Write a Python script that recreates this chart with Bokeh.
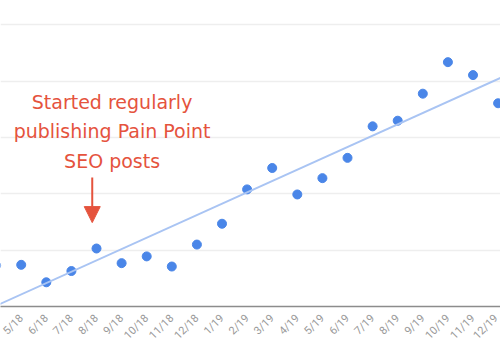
import math
from bokeh.plotting import figure
from bokeh.models import Range1d, FixedTicker, Grid, Slope, Arrow, NormalHead
from bokeh.core.properties import value
from bokeh.embed import file_html
from bokeh.resources import INLINE

# ---- data ----
months = ["4/18", "5/18", "6/18", "7/18", "8/18", "9/18", "10/18", "11/18", "12/18",
          "1/19", "2/19", "3/19", "4/19", "5/19", "6/19", "7/19", "8/19", "9/19",
          "10/19", "11/19", "12/19"]
traffic = [7.3, 7.4, 4.3, 6.3, 10.3, 7.7, 8.9, 7.1, 11.0,
           14.7, 20.8, 24.6, 19.9, 22.8, 26.4, 32.0, 33.0, 37.8,
           43.4, 41.1, 36.1]
trend_gradient = 2.014   # per month
trend_intercept = 0.13   # at first month
grid_values = [0, 10, 20, 30, 40, 50]
note_lines = ["Started regularly", "publishing Pain Point", "SEO posts"]
note_month = "8/18"

RED = "#e5533d"
BLUE = "#4a86e8"

xs = list(range(len(months)))

p = figure(width=500, height=350, output_backend="svg", toolbar_location=None,
           x_range=Range1d(0.175, 20.095), y_range=Range1d(0, 54.35),
           y_axis_location=None,
           min_border_left=0, min_border_right=0, min_border_top=0, min_border_bottom=44)
p.outline_line_color = None
p.background_fill_color = "white"
p.border_fill_color = "white"
p.xgrid.visible = False
p.ygrid.visible = False
p.add_layout(Grid(dimension=1, ticker=FixedTicker(ticks=grid_values),
                  grid_line_color="#eeeeee", grid_line_width=1.5), "center")

ax = p.xaxis[0]
ax.ticker = FixedTicker(ticks=xs)
ax.major_label_overrides = {i: m for i, m in enumerate(months)}
ax.major_label_orientation = math.pi / 4
ax.major_label_text_font = "Roboto"
ax.major_label_text_font_size = "11px"
ax.major_label_text_color = "#999999"
ax.major_label_standoff = 4
ax.major_tick_line_color = None
ax.minor_tick_line_color = None
ax.axis_line_color = "#8c8c8c"
ax.axis_line_width = 1.5

p.add_layout(Slope(gradient=trend_gradient, y_intercept=trend_intercept,
                   line_color="#a9c4f3", line_width=2))
p.scatter(xs, traffic, size=9, fill_color=BLUE, line_color=BLUE)

# annotation near the 8/18 month
nx = months.index(note_month)
p.add_layout(Arrow(x_start=nx - 0.17, y_start=22.9, x_end=nx - 0.17, y_end=14.9,
                   line_color=RED, line_width=2,
                   end=NormalHead(size=16, fill_color=RED, line_color=RED)))
p.text(x=[nx + 0.62] * 3, y=[36.3, 31.1, 25.9], text=note_lines,
       text_align="center", text_baseline="alphabetic",
       text_font=value("DejaVu Sans"), text_font_size="19px", text_color=RED)

open("out.html", "w").write(file_html(p, INLINE))
